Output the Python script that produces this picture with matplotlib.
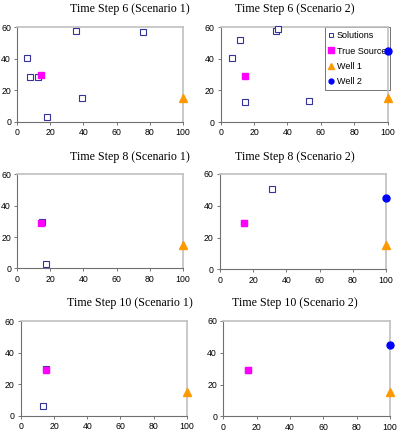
import matplotlib
matplotlib.use("Agg")
import matplotlib.pyplot as plt
from matplotlib.lines import Line2D

titles = ["Time Step 6 (Scenario 1)", "Time Step 6 (Scenario 2)",
          "Time Step 8 (Scenario 1)", "Time Step 8 (Scenario 2)",
          "Time Step 10 (Scenario 1)", "Time Step 10 (Scenario 2)"]

sol_x = [
    [5.6, 7.7, 12.7, 18.1, 35.7, 39.3, 75.8],
    [7.0, 11.8, 14.6, 33.3, 34.1, 53.1],
    [17.1, 14.7],
    [31.5, 14.3],
    [13.5, 15.0],
    [15.0],
]
sol_y = [
    [40.3, 28.2, 28.2, 2.8, 57.5, 15.1, 56.8],
    [40.4, 51.8, 12.7, 57.5, 58.7, 13.1],
    [2.6, 29.6],
    [50.8, 29.4],
    [5.9, 29.3],
    [29.0],
]
src_x = [14.3, 14.8, 14.2, 14.6, 14.8, 15.0]
src_y = [29.4, 29.1, 29.2, 29.2, 29.2, 29.0]
well1_x, well1_y = 100, 15
well2_x, well2_y = 100, 45
has_well2 = [False, True, False, True, False, True]

xticks = [0, 20, 40, 60, 80, 100]
yticks = [0, 20, 40, 60]

# axes rects (left, bottom, width, height) in figure fraction
rects = [
    (0.043, 0.7265, 0.4114, 0.2121),
    (0.549, 0.7258, 0.4154, 0.2128),
    (0.043, 0.397, 0.4114, 0.2112),
    (0.5473, 0.3948, 0.413, 0.2142),
    (0.0522, 0.0658, 0.4122, 0.2128),
    (0.5555, 0.0645, 0.4147, 0.2142),
]
title_pos = [(130, 9), (295, 9), (130, 157), (295, 157), (130, 303), (295, 303)]

sol_color = "#333399"
src_color = "#FF00FF"
w1_color = "#FF9900"
w2_color = "#0000FF"

fig = plt.figure(figsize=(4.02, 4.45), dpi=100)
W, H = 402, 445
for i in range(6):
    ax = fig.add_axes(rects[i])
    ax.set_xlim(0, 100)
    ax.set_ylim(0, 60)
    ax.set_xticks(xticks)
    ax.set_yticks(yticks)
    ax.tick_params(labelsize=6.3, length=2.5, width=0.6, color="#606060",
                   pad=2, labelcolor="black")
    for lab in ax.get_xticklabels() + ax.get_yticklabels():
        lab.set_fontfamily("Liberation Sans")
    for s in ["left", "bottom"]:
        ax.spines[s].set_color("#707070")
        ax.spines[s].set_linewidth(0.8)
    for s in ["top", "right"]:
        ax.spines[s].set_color("#C0C0C0")
        ax.spines[s].set_linewidth(1.2)
    ax.plot(sol_x[i], sol_y[i], ls="none", marker="s", ms=4.4, mfc="white",
            mec=sol_color, mew=0.8, clip_on=False, zorder=3, label="Solutions")
    ax.plot([src_x[i]], [src_y[i]], ls="none", marker="s", ms=5, mfc=src_color,
            mec=src_color, clip_on=False, zorder=4, label="True Source")
    ax.plot([well1_x], [well1_y], ls="none", marker="^", ms=5.5, mfc=w1_color,
            mec=w1_color, clip_on=False, zorder=4, label="Well 1")
    if has_well2[i]:
        ax.plot([well2_x], [well2_y], ls="none", marker="o", ms=5, mfc=w2_color,
                mec=w2_color, clip_on=False, zorder=4, label="Well 2")
    tx, ty = title_pos[i]
    fig.text(tx / W, 1 - ty / H, titles[i], ha="center", va="center",
             fontsize=8.6, family="Liberation Serif")
    if i == 1:
        handles = [
            Line2D([], [], ls="none", marker="s", ms=3.5, mfc="white", mec=sol_color, mew=0.7),
            Line2D([], [], ls="none", marker="s", ms=4, mfc=src_color, mec=src_color),
            Line2D([], [], ls="none", marker="^", ms=4, mfc=w1_color, mec=w1_color),
            Line2D([], [], ls="none", marker="o", ms=3.5, mfc=w2_color, mec=w2_color),
        ]
        leg = ax.legend(handles, ["Solutions", "True Source", "Well 1", "Well 2"],
                        loc="upper left", bbox_to_anchor=(0.622, 1.0),
                        prop={"family": "Liberation Sans", "size": 6.5},
                        frameon=True, fancybox=False, handlelength=0.6,
                        handletextpad=0.3, borderpad=0.45, labelspacing=0.68,
                        borderaxespad=0)
        leg.get_frame().set_edgecolor("#505050")
        leg.get_frame().set_linewidth(0.7)
        leg.set_zorder(2)

fig.savefig("out.png", dpi=100)
